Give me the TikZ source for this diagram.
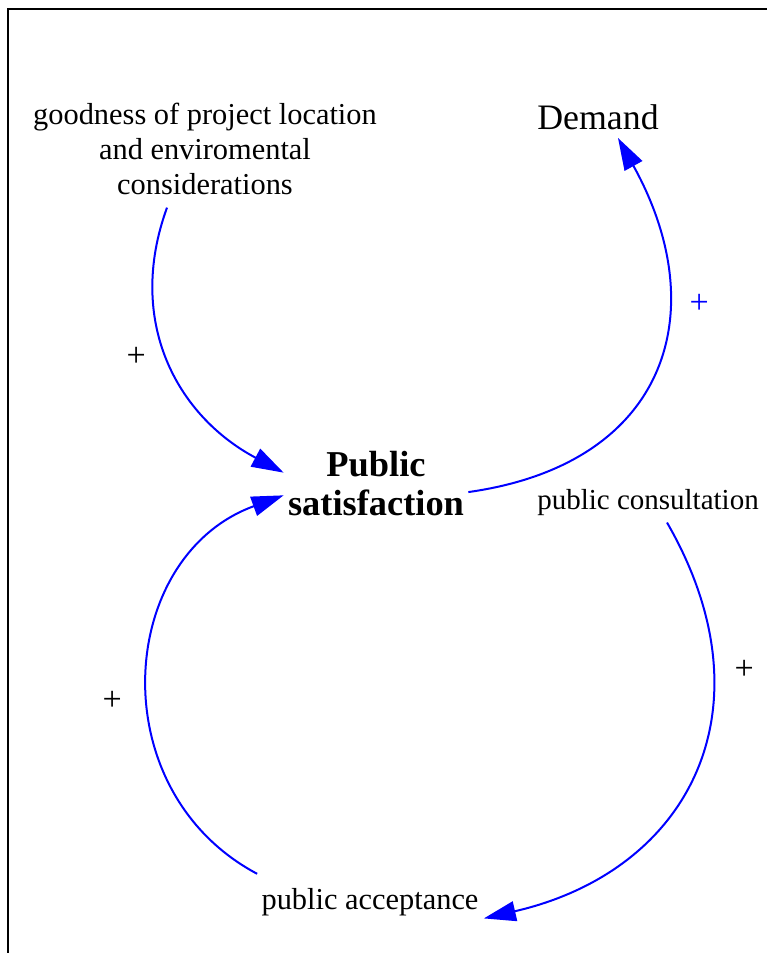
\documentclass[tikz,border=0pt]{standalone}
\usepackage{fontspec}
\setmainfont{Liberation Serif}
\usetikzlibrary{arrows.meta,positioning}

\tikzset{
    var/.style={inner sep=4pt, align=center, font=\fontsize{15.2}{17.5}\selectfont},
    keyvar/.style={var, inner sep=2pt, font=\bfseries\fontsize{18.2}{19.5}\selectfont},
    link/.style={blue, line width=1pt, -{Triangle[length=16pt,width=10pt]}},
    polarity/.style={inner sep=0pt, text=black, yshift=-2pt, font=\fontsize{17}{17}\selectfont}
}

\begin{document}
\begin{tikzpicture}[x=0.5pt,y=0.5pt,on grid]
                \useasboundingbox (0,0) rectangle (767,953);
                \draw[line width=1pt] (8,0) -- (8,944) -- (767,944);
                \node[keyvar] (public) at (376,469) {Public\\satisfaction};
                \node[var] (goodness) [above left=167.3pt and 85.5pt of public] {goodness of project location\\and enviromental\\considerations};
                \node[var, font=\fontsize{17.9}{20}\selectfont] (demand) [above right=183.5pt and 111pt of public] {Demand};
                \node[var, font=\fontsize{14.5}{17}\selectfont] (consult) [below right=9.5pt and 136pt of public] {public consultation};
                \node[var] (accept) [below left=209pt and 3pt of public] {public acceptance};
                \path[link]
                ([xshift=-19pt,yshift=-2pt]goodness.south) edge [out=250, in=152, looseness=1.07] node[polarity, left=9.7pt, pos=.47] {+} (public.173)
                (public.-5) edge [out=8, in=-61, looseness=1.33] node[polarity, text=blue, right=11.2pt, pos=.67] {+} ([xshift=10pt]demand.south)
                ([xshift=9.5pt,yshift=1pt]consult.south) edge [out=-60, in=13, looseness=1.25] node[polarity, right=10.2pt, pos=.27] {+} ([xshift=-1.5pt]accept.-8)
                ([xshift=2pt,yshift=3pt]accept.north west) edge [out=152, in=200, looseness=1.2] node[polarity, left=12.8pt, pos=.455] {+} (public.187);
            \end{tikzpicture}
\end{document}
